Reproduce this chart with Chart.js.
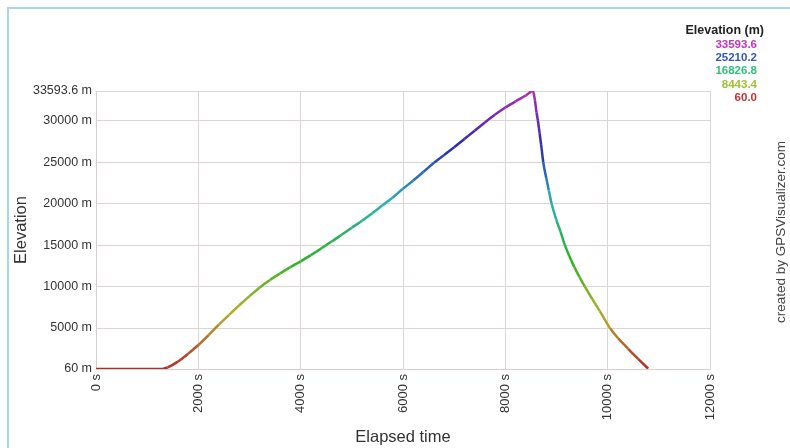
<!DOCTYPE html>
<html>
<head>
<meta charset="utf-8">
<script src="https://cdn.jsdelivr.net/npm/chart.js@4"></script>
<style>
  html, body { margin: 0; padding: 0; background: #fff; }
  #wrap { width: 790px; height: 448px; position: relative; }
</style>
</head>
<body>
<div id="wrap"><canvas id="myChart" width="790" height="448"></canvas></div>
<script>
// elapsed time (s) and elevation (m)
let times = [
  0, 600, 1290, 1400, 1600, 1800, 2000, 2200, 2400, 2600, 2800, 3000, 3200, 3400, 3600, 3800,
  4000, 4200, 4400, 4600, 4800, 5000, 5200, 5400, 5600, 5800, 6000, 6200, 6400, 6600, 6800,
  7000, 7200, 7400, 7600, 7800, 8000, 8200, 8400, 8540,
  8580, 8610, 8637, 8670, 8700, 8741, 8800, 8850, 8905, 9000, 9080, 9164, 9250, 9350, 9450,
  9555, 9700, 9850, 10044, 10200, 10400, 10600, 10792,
];
let elevations = [
  60, 60, 60, 250, 950, 1900, 2950, 4150, 5400, 6600, 7750, 8850, 9900, 10800, 11600, 12350,
  13050, 13800, 14600, 15400, 16250, 17100, 17950, 18850, 19800, 20750, 21800, 22800, 23850, 24900, 25850,
  26800, 27800, 28800, 29800, 30750, 31600, 32350, 33050, 33593.6,
  32400, 31000, 30000, 28500, 27100, 25000, 23100, 21600, 20000, 18000, 16600, 15000, 13700, 12350, 11150,
  10000, 8500, 7000, 5000, 3800, 2500, 1250, 100,
];
let yTicks = [60, 5000, 10000, 15000, 20000, 25000, 30000, 33593.6];
let legendValues = ["33593.6", "25210.2", "16826.8", "8443.4", "60.0"];

const minE = 60;
const maxE = 33593.6;
const FONT = "'Liberation Sans', Arial, sans-serif";

function colorFor(e, sat, light) {
  let f = (e - minE) / (maxE - minE);
  f = Math.max(0, Math.min(1, f));
  let h = f * 300;
  return "hsl(" + h + ", " + (sat || 62) + "%, " + (light || 43) + "%)";
}

const frame = {
  id: "frame",
  beforeDraw(chart) {
    const c = chart.ctx;
    c.save();
    c.strokeStyle = "#a9d3ee";
    c.lineWidth = 2;
    c.beginPath();
    c.moveTo(8, 448);
    c.lineTo(8, 8);
    c.lineTo(790, 8);
    c.stroke();
    c.restore();
  },
  afterDraw(chart) {
    const c = chart.ctx;
    c.save();
    c.textAlign = "right";
    c.textBaseline = "middle";
    c.fillStyle = "#222";
    c.font = "bold 12.5px " + FONT;
    c.fillText("Elevation (m)", 764, 31);
    const ys = [45, 58, 71, 85, 98];
    c.font = "bold 11.5px " + FONT;
    legendValues.forEach((v, i) => {
      c.fillStyle = colorFor(parseFloat(v), 58, 48);
      c.fillText(v, 757, ys[i]);
    });
    c.translate(781, 232);
    c.rotate(-Math.PI / 2);
    c.textAlign = "center";
    c.fillStyle = "#444";
    c.font = "13.5px " + FONT;
    c.fillText("created by GPSVisualizer.com", 0, 0);
    c.restore();
  },
};

const ctx = document.getElementById("myChart").getContext("2d");
const myChart = new Chart(ctx, {
  type: "line",
  data: {
    datasets: [
      {
        label: "Elevation",
        data: times.map((t, i) => ({ x: t, y: elevations[i] })),
        borderWidth: 2.5,
        pointRadius: 0,
        cubicInterpolationMode: "monotone",
        segment: {
          borderColor: (s) => colorFor((s.p0.parsed.y + s.p1.parsed.y) / 2),
        },
      },
    ],
  },
  options: {
    responsive: false,
    animation: false,
    layout: { padding: { left: 8, right: 80, top: 91, bottom: 0 } },
    plugins: { legend: { display: false }, tooltip: { enabled: false } },
    scales: {
      x: {
        type: "linear",
        min: 0,
        max: 12000,
        afterBuildTicks: (s) => {
          s.ticks = [0, 2000, 4000, 6000, 8000, 10000, 12000].map((v) => ({ value: v }));
        },
        afterFit: (s) => { s.height = 79; },
        grid: { color: "#ddd5d3", drawTicks: false, lineWidth: 1 },
        border: { color: "#d8cfcd" },
        ticks: {
          minRotation: 90,
          maxRotation: 90,
          padding: 5,
          color: "#333",
          font: { family: FONT, size: 13 },
          callback: (v) => v + " s",
        },
        title: {
          display: true,
          text: "Elapsed time",
          color: "#333",
          padding: { top: 2, bottom: 1 },
          font: { family: FONT, size: 16.5 },
        },
      },
      y: {
        min: minE,
        max: maxE,
        afterBuildTicks: (s) => {
          s.ticks = yTicks.map((v) => ({ value: v }));
        },
        afterFit: (s) => { s.width = 88; },
        grid: { color: "#ddd5d3", drawTicks: false, lineWidth: 1 },
        border: { color: "#d8cfcd" },
        ticks: {
          padding: 4,
          color: "#333",
          font: { family: FONT, size: 12.5 },
          callback: (v) => v + " m",
        },
        title: {
          display: true,
          text: "Elevation",
          color: "#333",
          padding: { top: 4, bottom: 4 },
          font: { family: FONT, size: 16.5 },
        },
      },
    },
  },
  plugins: [frame],
});
</script>
</body>
</html>
